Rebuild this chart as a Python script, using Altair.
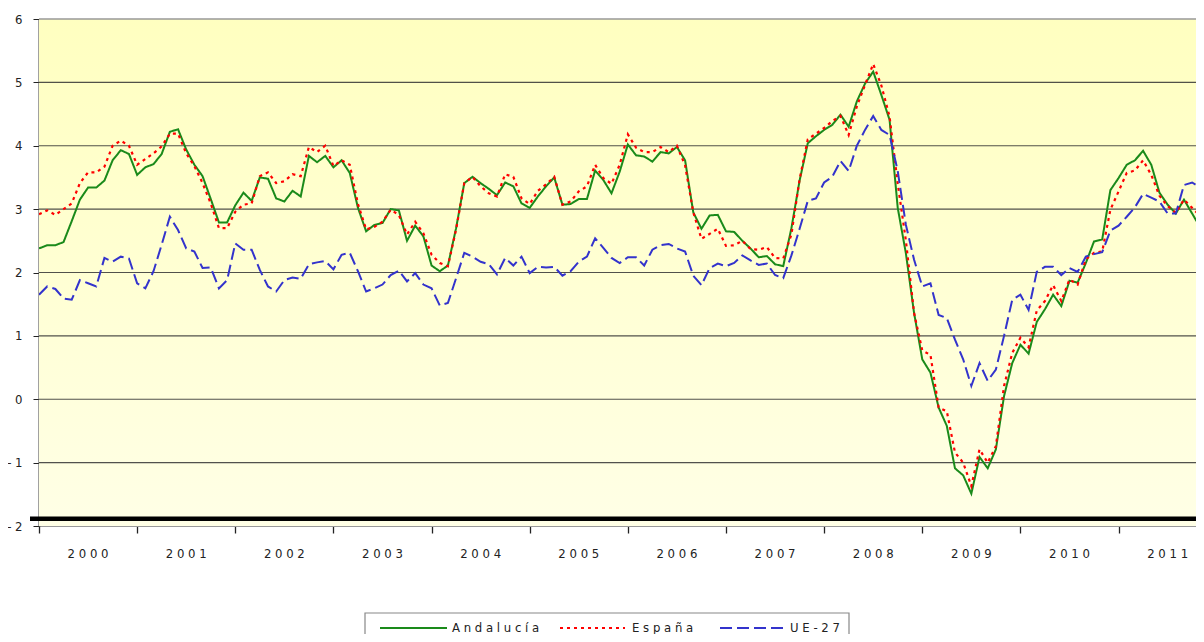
import altair as alt
import pandas as pd

# ---------------- data (monthly, Jan 2000 ...) ----------------
years = [2000, 2001, 2002, 2003, 2004, 2005, 2006, 2007, 2008, 2009, 2010, 2011]

andalucia = [
    2.38, 2.43, 2.43, 2.48, 2.81, 3.15, 3.34, 3.34, 3.45, 3.77, 3.93, 3.87,
    3.54, 3.66, 3.71, 3.87, 4.22, 4.26, 3.94, 3.70, 3.52, 3.16, 2.79, 2.79,
    3.06, 3.26, 3.13, 3.50, 3.48, 3.17, 3.12, 3.29, 3.20, 3.84, 3.74, 3.84,
    3.66, 3.77, 3.57, 3.02, 2.65, 2.75, 2.78, 3.00, 2.98, 2.50, 2.74, 2.57,
    2.11, 2.02, 2.11, 2.70, 3.41, 3.51, 3.41, 3.32, 3.22, 3.42, 3.36, 3.09,
    3.02, 3.20, 3.36, 3.50, 3.07, 3.08, 3.16, 3.16, 3.61, 3.46, 3.25, 3.59,
    4.02, 3.85, 3.83, 3.75, 3.90, 3.88, 3.98, 3.77, 2.95, 2.69, 2.90, 2.91,
    2.65, 2.64, 2.50, 2.38, 2.24, 2.26, 2.13, 2.10, 2.70, 3.45, 4.04, 4.15,
    4.25, 4.33, 4.49, 4.30, 4.70, 4.98, 5.17, 4.80, 4.41, 3.02, 2.30, 1.36,
    0.63, 0.42, -0.13, -0.42, -1.09, -1.20, -1.49, -0.91, -1.09, -0.79, 0.05, 0.57,
    0.86, 0.72, 1.22, 1.42, 1.65, 1.47, 1.87, 1.84, 2.15, 2.49, 2.52, 3.30,
    3.49, 3.70, 3.77, 3.92, 3.70, 3.26, 3.07, 2.93, 3.15, 2.93, 2.71, 2.05,
]

espana = [
    2.92, 2.98, 2.91, 3.00, 3.09, 3.41, 3.58, 3.58, 3.67, 4.00, 4.08, 4.00,
    3.70, 3.79, 3.88, 3.99, 4.19, 4.19, 3.88, 3.68, 3.41, 3.09, 2.70, 2.70,
    2.96, 3.07, 3.09, 3.52, 3.58, 3.41, 3.44, 3.55, 3.52, 3.98, 3.90, 4.00,
    3.68, 3.77, 3.70, 3.08, 2.68, 2.72, 2.80, 2.99, 2.91, 2.60, 2.80, 2.62,
    2.28, 2.15, 2.10, 2.68, 3.41, 3.51, 3.36, 3.25, 3.20, 3.55, 3.51, 3.17,
    3.08, 3.29, 3.39, 3.51, 3.07, 3.12, 3.28, 3.36, 3.70, 3.49, 3.40, 3.70,
    4.18, 3.97, 3.90, 3.90, 3.98, 3.90, 4.00, 3.69, 2.95, 2.53, 2.61, 2.69,
    2.42, 2.43, 2.50, 2.37, 2.36, 2.40, 2.23, 2.22, 2.60, 3.47, 4.10, 4.19,
    4.28, 4.39, 4.47, 4.17, 4.62, 4.96, 5.29, 4.95, 4.46, 3.40, 2.50, 1.36,
    0.77, 0.70, -0.13, -0.19, -0.84, -1.00, -1.37, -0.79, -1.00, -0.74, 0.21, 0.73,
    0.97, 0.82, 1.40, 1.55, 1.80, 1.55, 1.89, 1.81, 2.21, 2.31, 2.33, 2.99,
    3.28, 3.57, 3.61, 3.77, 3.54, 3.21, 3.05, 2.94, 3.15, 3.02, 2.89, 2.75,
]

ue27 = [
    1.65, 1.78, 1.74, 1.59, 1.57, 1.88, 1.83, 1.78, 2.23, 2.17, 2.25, 2.22,
    1.83, 1.75, 2.02, 2.44, 2.88, 2.67, 2.38, 2.33, 2.07, 2.08, 1.75, 1.88,
    2.46, 2.36, 2.36, 2.04, 1.78, 1.70, 1.88, 1.92, 1.90, 2.13, 2.16, 2.18,
    2.05, 2.28, 2.31, 2.02, 1.70, 1.75, 1.81, 1.96, 2.03, 1.86, 1.99, 1.81,
    1.75, 1.48, 1.52, 1.91, 2.31, 2.25, 2.17, 2.13, 1.97, 2.23, 2.11, 2.25,
    1.99, 2.09, 2.08, 2.09, 1.95, 2.02, 2.17, 2.25, 2.54, 2.39, 2.23, 2.15,
    2.24, 2.24, 2.11, 2.36, 2.43, 2.45, 2.38, 2.33, 1.95, 1.80, 2.07, 2.14,
    2.10, 2.15, 2.27, 2.19, 2.12, 2.14, 1.96, 1.91, 2.27, 2.69, 3.13, 3.17,
    3.42, 3.51, 3.76, 3.60, 4.00, 4.25, 4.47, 4.25, 4.17, 3.60, 2.75, 2.20,
    1.78, 1.83, 1.33, 1.28, 0.94, 0.63, 0.21, 0.57, 0.29, 0.47, 1.00, 1.57,
    1.65, 1.41, 2.01, 2.09, 2.09, 1.96, 2.07, 2.01, 2.25, 2.29, 2.32, 2.66,
    2.74, 2.88, 3.03, 3.24, 3.18, 3.12, 2.93, 2.93, 3.38, 3.42, 3.34, 3.30,
]

series_names = ["Andalucía", "España", "UE-27"]
y_ticks = [-2, -1, 0, 1, 2, 3, 4, 5, 6]

# ---------------- layout / style ----------------
W, H = 1157, 507
FONT = "Liberation Sans Narrow, Arial Narrow, DejaVu Sans Condensed, sans-serif"
colors = ["#1a8a1a", "#ff0000", "#3333cc"]
dashes = [[1, 0], [3, 4], [12, 5]]
widths = [2, 2.2, 2]

months = list(range(len(andalucia)))
x_scale = alt.Scale(domain=[0, 141.47], nice=False, zero=False)
y_scale = alt.Scale(domain=[-2, 6], nice=False, zero=False)

x_axis = alt.Axis(values=[12 * k for k in range(len(years))], labels=False, title=None,
                  grid=False, tickSize=7, tickColor="#222222", tickWidth=1.3,
                  domainColor="#999999", domainWidth=1.2)
y_axis = alt.Axis(values=y_ticks, title=None, grid=False, tickSize=6, tickColor="#222222",
                  labelPadding=11, labelFont=FONT, labelFontSize=13, labelColor="#222222",
                  labelExpr="datum.value < 0 ? '- ' + format(abs(datum.value), 'd') : format(datum.value, 'd')",
                  domainColor="#444444", domainWidth=2)

# background gradient
bg = alt.Chart(pd.DataFrame({"a": [0]})).mark_rect(
    fill=alt.Gradient(gradient="linear",
                      stops=[alt.GradientStop(color="#ffffc0", offset=0),
                             alt.GradientStop(color="#ffffe6", offset=1)],
                      x1=0, x2=0, y1=0, y2=1)
).encode(x=alt.value(0), x2=alt.value(W), y=alt.value(0), y2=alt.value(H))

# gridlines
grid_df = pd.DataFrame({"v": [t for t in y_ticks if -2 < t < 6]})
grid = alt.Chart(grid_df).mark_rule(color="#333333", strokeWidth=1.2, opacity=0.85).encode(
    y=alt.Y("v:Q", scale=y_scale, axis=y_axis)
)

# top border
top = alt.Chart(pd.DataFrame({"a": [0]})).mark_rule(color="#999999", strokeWidth=1.5).encode(
    y=alt.datum(max(y_ticks), scale=y_scale)
)

# heavy bottom line
floor = alt.Chart(pd.DataFrame({"a": [0]})).mark_rule(color="#000000", strokeWidth=4.5).encode(
    y=alt.datum(-1.885, scale=y_scale), x=alt.value(-9), x2=alt.value(W)
)

layers = [bg, grid, top, floor]

all_vals = [andalucia, espana, ue27]
for name, vals, col, dash, sw in zip(series_names, all_vals, colors, dashes, widths):
    df = pd.DataFrame({"month": months, "value": vals, "serie": name})
    line = alt.Chart(df).mark_line(color=col, strokeDash=dash, strokeWidth=sw, clip=True).encode(
        x=alt.X("month:Q", scale=x_scale, axis=x_axis),
        y=alt.Y("value:Q", scale=y_scale, axis=y_axis),
    )
    layers.append(line)

# year labels
yl_df = pd.DataFrame({"mid": [12 * k + 6 for k in range(len(years))],
                      "lab": [" ".join(str(y)) for y in years]})
year_text = alt.Chart(yl_df).mark_text(font=FONT, fontSize=13, color="#222222",
                                       baseline="middle", align="center").encode(
    x=alt.X("mid:Q", scale=x_scale, axis=x_axis),
    y=alt.value(535),
    text="lab:N",
)
layers.append(year_text)

# legend (manual)
leg_box = alt.Chart(pd.DataFrame({"a": [0]})).mark_rect(fill="#ffffff", stroke="#888888",
                                                        strokeWidth=1.2).encode(
    x=alt.value(326), x2=alt.value(810), y=alt.value(594), y2=alt.value(650)
)
layers.append(leg_box)
leg_pos = [(341, 408, 413), (521, 586, 593), (681, 748, 751)]
for name, col, dash, sw, (a, b, t) in zip(series_names, colors, dashes, widths, leg_pos):
    ldf = pd.DataFrame({"lab": [" ".join(name)]})
    layers.append(alt.Chart(ldf).mark_rule(color=col, strokeDash=dash, strokeWidth=sw).encode(
        x=alt.value(a), x2=alt.value(b), y=alt.value(609)))
    layers.append(alt.Chart(ldf).mark_text(font=FONT, fontSize=13, color="#222222",
                                           align="left", baseline="middle").encode(
        x=alt.value(t), y=alt.value(609), text="lab:N"))

chart = alt.layer(*layers).properties(
    width=W, height=H,
    autosize=alt.AutoSizeParams(type="none"),
    padding={"left": 31, "top": 11, "right": 0, "bottom": 108},
).configure_view(strokeWidth=0).configure(background="#ffffff")

chart.save("out.html", embed_options={"renderer": "svg", "actions": False})
